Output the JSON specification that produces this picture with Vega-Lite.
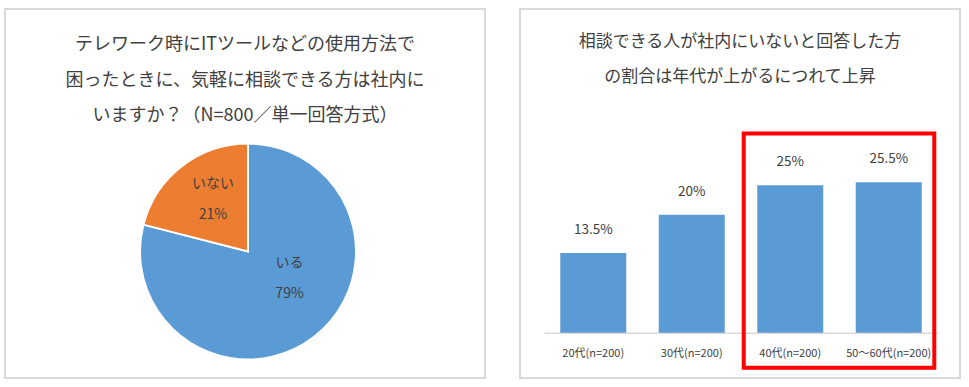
{
  "$schema": "https://vega.github.io/schema/vega-lite/v6.json",
  "background": "white",
  "padding": {"left": 4, "top": 8, "right": 0, "bottom": 0},
  "spacing": 33,
  "config": {
    "font": "Noto Sans CJK JP",
    "view": {"stroke": "#d9d9d9", "strokeWidth": 2}
  },
  "hconcat": [
    {
      "width": 480,
      "height": 369,
      "view": {"stroke": "#d9d9d9", "strokeWidth": 2},
      "title": {
        "text": ["テレワーク時にITツールなどの使用方法で", "困ったときに、気軽に相談できる方は社内に", "いますか？（N=800／単一回答方式）"],
        "fontSize": 18,
        "lineHeight": 35.5,
        "fontWeight": "normal",
        "color": "#404040",
        "anchor": "middle",
        "baseline": "top",
        "offset": -116
      },
      "data": {"values": [
        {"answer": "いる", "share": 79, "rank": 1, "label": "いる\n79%"},
        {"answer": "いない", "share": 21, "rank": 2, "label": "いない\n21%"}
      ]},
      "encoding": {
        "theta": {"field": "share", "type": "quantitative", "stack": true},
        "order": {"field": "rank", "type": "quantitative"}
      },
      "layer": [
        {
          "mark": {"type": "arc", "radius": 108, "stroke": "white", "strokeWidth": 2, "xOffset": 3, "yOffset": 58},
          "encoding": {
            "color": {"field": "answer", "type": "nominal", "scale": {"domain": ["いる", "いない"], "range": ["#5B9BD5", "#ED7D31"]}, "legend": null}
          }
        },
        {
          "mark": {"type": "text", "radius": 63, "thetaOffset": 0.07, "dy": -15, "lineBreak": "\n", "lineHeight": 31, "fontSize": 14, "color": "#404040", "xOffset": 3, "yOffset": 58},
          "encoding": {
            "text": {"field": "label"},
            "opacity": {"condition": {"test": "datum.answer === 'いない'", "value": 1}, "value": 0}
          }
        },
        {
          "mark": {"type": "text", "radius": 47, "thetaOffset": -0.382, "dy": -12.5, "lineBreak": "\n", "lineHeight": 31, "fontSize": 14, "color": "#404040", "xOffset": 4, "yOffset": 58},
          "encoding": {
            "text": {"field": "label"},
            "opacity": {"condition": {"test": "datum.answer === 'いる'", "value": 1}, "value": 0}
          }
        }
      ]
    },
    {
      "width": 440,
      "height": 369,
      "title": {
        "text": ["相談できる人が社内にいないと回答した方", "の割合は年代が上がるにつれて上昇"],
        "fontSize": 17,
        "lineHeight": 35,
        "fontWeight": "normal",
        "color": "#404040",
        "anchor": "middle",
        "baseline": "top",
        "offset": -77
      },
      "data": {"values": [
        {"age": "20代(n=200)", "share": 0.135},
        {"age": "30代(n=200)", "share": 0.2},
        {"age": "40代(n=200)", "share": 0.25},
        {"age": "50～60代(n=200)", "share": 0.255}
      ]},
      "encoding": {
        "x": {
          "field": "age",
          "type": "nominal",
          "sort": null,
          "scale": {"range": [24, 418], "paddingInner": 0.33, "paddingOuter": 0.165},
          "axis": {
            "title": null,
            "orient": "bottom",
            "offset": -45.3,
            "domainColor": "#d9d9d9",
            "domainWidth": 1.5,
            "ticks": false,
            "grid": false,
            "labelAngle": 0,
            "labelFontSize": 11,
            "labelColor": "#404040",
            "labelPadding": 15
          }
        }
      },
      "layer": [
        {
          "mark": {"type": "bar", "color": "#5B9BD5"},
          "encoding": {
            "y": {"field": "share", "type": "quantitative", "scale": {"domain": [-0.0768, 0.5486], "nice": false, "zero": false}, "axis": null}
          }
        },
        {
          "mark": {"type": "text", "dy": -23, "fontSize": 13.5, "color": "#404040"},
          "encoding": {
            "y": {"field": "share", "type": "quantitative"},
            "text": {"field": "share", "type": "quantitative", "format": ".1~%"}
          }
        },
        {
          "data": {"values": [{}]},
          "mark": {"type": "rect", "filled": false, "stroke": "#ff0000", "strokeWidth": 4},
          "encoding": {
            "x": {"datum": "40代(n=200)", "bandPosition": -0.205},
            "x2": {"datum": "50～60代(n=200)", "bandPosition": 1.19},
            "y": {"datum": 0.3376},
            "y2": {"datum": -0.0593}
          }
        }
      ]
    }
  ]
}
